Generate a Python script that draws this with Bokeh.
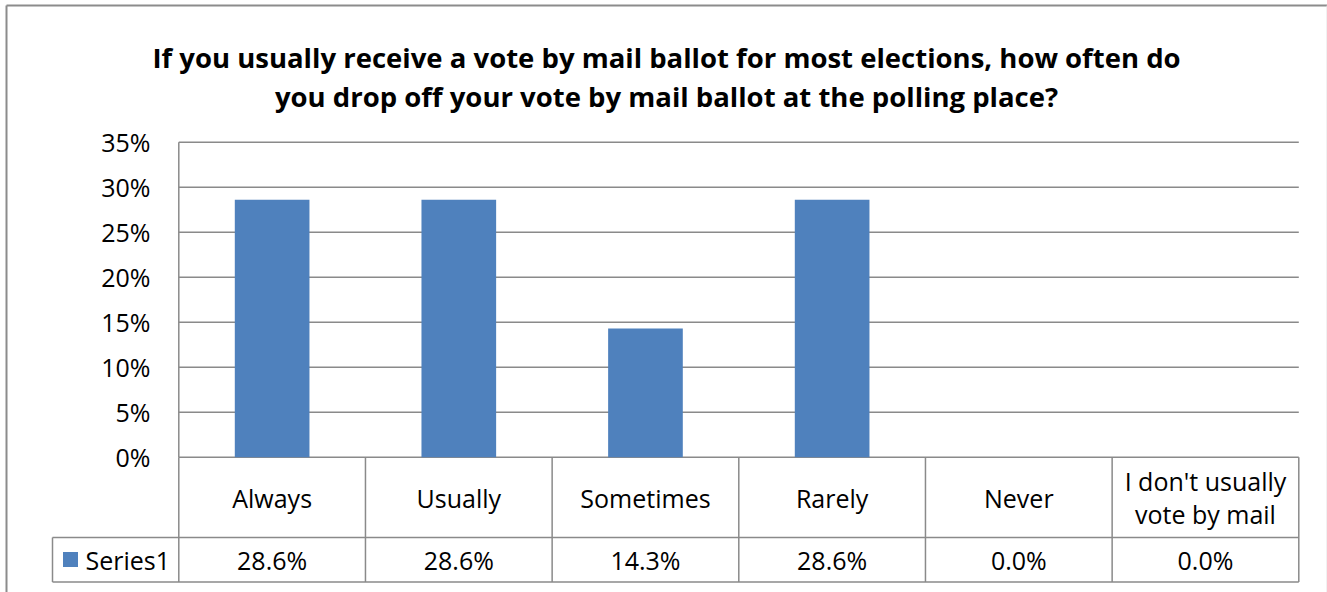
from bokeh.plotting import figure
from bokeh.models import Range1d, ColumnDataSource
from bokeh.core.properties import value
from bokeh.embed import file_html
from bokeh.resources import INLINE

# ---------------- data ----------------
categories = ["Always", "Usually", "Sometimes", "Rarely", "Never", "I don't usually\nvote by mail"]
values = [28.6, 28.6, 14.3, 28.6, 0.0, 0.0]          # percent
series_name = "Series1"
y_ticks = [0, 5, 10, 15, 20, 25, 30, 35]
title_lines = [
    "If you usually receive a vote by mail ballot for most elections, how often do",
    "you drop off your vote by mail ballot at the polling place?",
]

# ---------------- layout (pixels) ----------------
W, H = 1327, 592
PLOT_LEFT_PX = 178.3
CAT_PX = (1298.3 - 178.3) / len(categories)
ZERO_PX = 456.7
PCT_PX = 9.0            # pixels per percentage point
HDR_BOTTOM_PX = 537.0
TABLE_BOTTOM_PX = 581.5
LEGEND_LEFT_PX = 52.0

def dx(px):
    return (px - PLOT_LEFT_PX) / CAT_PX

def dy(px):
    return (ZERO_PX - px) / PCT_PX

FONT = value("Open Sans")
GRID = "#8a8a8a"
BAR = "#4f81bd"
BODY_SIZE = "25px"

p = figure(width=W, height=H, output_backend="svg", toolbar_location=None,
           x_range=Range1d(dx(0), dx(W)), y_range=Range1d(dy(H), dy(0)),
           x_axis_type=None, y_axis_type=None, min_border=0,
           outline_line_color=None, background_fill_color="white",
           border_fill_color="white")

n = len(categories)
centers = [i + 0.5 for i in range(n)]

# outer chart border
p.segment(x0=[dx(6), dx(6)], y0=[dy(5), dy(5)], x1=[dx(6), dx(1326.5)], y1=[dy(H + 10), dy(5)],
          line_color="#8c8c8c", line_width=2)
p.segment(x0=[dx(1326.5)], y0=[dy(5)], x1=[dx(1326.5)], y1=[dy(H + 10)],
          line_color="#e3e3e3", line_width=1)

# horizontal gridlines
p.segment(x0=[0] * len(y_ticks), y0=y_ticks, x1=[n] * len(y_ticks), y1=y_ticks,
          line_color=GRID, line_width=1.5)
# y axis line
p.segment(x0=[0], y0=[y_ticks[-1]], x1=[0], y1=[0], line_color=GRID, line_width=1.5)

# bars
src = ColumnDataSource(dict(x=centers, top=values))
p.vbar(x="x", top="top", bottom=0, width=0.4, source=src, fill_color=BAR, line_color=None)

# y tick labels
p.text(x=[dx(150)] * len(y_ticks), y=y_ticks, text=[f"{t}%" for t in y_ticks],
       text_align="right", text_baseline="middle", text_font=FONT,
       text_font_size=BODY_SIZE, text_color="#000000")

# data table lines
p.segment(x0=list(range(n + 1)), y0=[0] * (n + 1), x1=list(range(n + 1)),
          y1=[dy(TABLE_BOTTOM_PX)] * (n + 1), line_color=GRID, line_width=1.5)
p.segment(x0=[dx(LEGEND_LEFT_PX)] * 2, y0=[dy(HDR_BOTTOM_PX), dy(TABLE_BOTTOM_PX)],
          x1=[n, n], y1=[dy(HDR_BOTTOM_PX), dy(TABLE_BOTTOM_PX)],
          line_color=GRID, line_width=1.5)
p.segment(x0=[dx(LEGEND_LEFT_PX)], y0=[dy(HDR_BOTTOM_PX)], x1=[dx(LEGEND_LEFT_PX)],
          y1=[dy(TABLE_BOTTOM_PX)], line_color=GRID, line_width=1.5)

# header labels
p.text(x=centers, y=[dy(497)] * n, text=categories, text_align="center",
       text_baseline="middle", text_font=FONT, text_font_size=BODY_SIZE,
       text_line_height=0.96, text_color="#000000")

# value row
p.text(x=centers, y=[dy(559)] * n, text=[f"{v:.1f}%" for v in values],
       text_align="center", text_baseline="middle", text_font=FONT,
       text_font_size=BODY_SIZE, text_color="#000000")

# legend key + series name
p.scatter(x=[dx(70)], y=[dy(559)], marker="square", size=15, fill_color=BAR, line_color=None)
p.text(x=[dx(85)], y=[dy(559)], text=[series_name], text_align="left",
       text_baseline="middle", text_font=FONT, text_font_size=BODY_SIZE, text_color="#000000")

# title
p.text(x=[dx(666)] * 2, y=[dy(56.5), dy(96)], text=title_lines, text_align="center",
       text_baseline="alphabetic", text_font=FONT, text_font_size="27.5px",
       text_font_style="bold", text_color="#000000")

open("out.html", "w").write(file_html(p, INLINE))
